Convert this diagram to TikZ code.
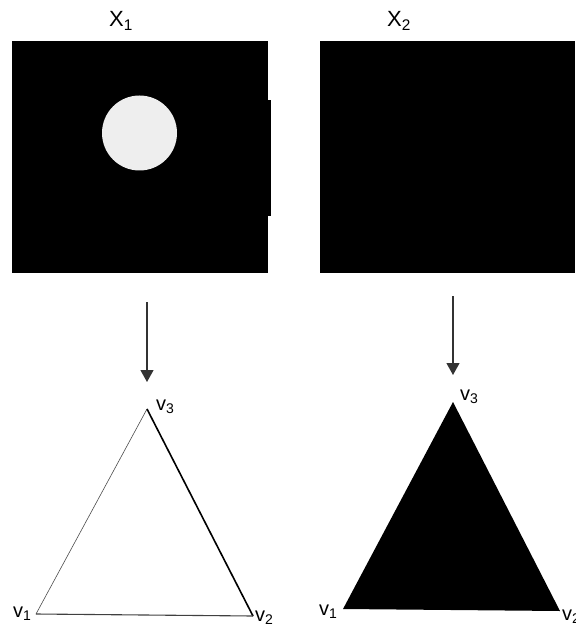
\documentclass[tikz,border=0pt]{standalone}
\usepackage{fontspec}
\setmainfont{Liberation Sans}
\usetikzlibrary{arrows.meta}
\definecolor{disc}{HTML}{EEEEEE}
\tikzset{
  lbl/.style={inner sep=0pt,anchor=base west,font=\fontsize{20}{22}\selectfont},
  ttl/.style={inner sep=0pt,anchor=base west,font=\fontsize{22}{25}\selectfont},
  down/.style={-{Triangle[width=13pt,length=12pt]},line width=1.2pt,black!80},
}

\begin{document}
\begin{tikzpicture}[x=1pt,y=-1pt]
\useasboundingbox (0,0) rectangle (575,628);
\clip (0,0) rectangle (575,628);
% the two images
\node[ttl] (x1) at (109,27) {X\textsubscript{1}};
\node[ttl] (x2) at (387,27) {X\textsubscript{2}};
\fill (12,41) rectangle (268,273);
\fill (268,100) rectangle (270.5,216);
\fill (320,41) rectangle (575,273);
\fill[disc] (139.5,133) circle (37.5pt);
% arrows down
\coordinate (a1) at (147,302); \coordinate (b1) at (147,382);
\coordinate (a2) at (453,296); \coordinate (b2) at (453,375);
\draw[down] (a1) -- (b1);
\draw[down] (a2) -- (b2);
% left simplex, empty
\coordinate (p1) at (36,614); \coordinate (p2) at (253,616); \coordinate (p3) at (147,409);
\draw[line width=0.6pt,black!70] (p1) -- (p3);
\draw[line width=1.6pt] (p3) -- (p2);
\draw[line width=1.1pt,black!75] (p1) -- (p2);
\node[lbl] (v1) at (13,617) {v\textsubscript{1}};
\node[lbl] (v2) at (255,621) {v\textsubscript{2}};
\node[lbl] (v3) at (156,410) {v\textsubscript{3}};
% right simplex, filled
\coordinate (q1) at (343,609); \coordinate (q2) at (560,611); \coordinate (q3) at (453,402);
\fill (q1) -- (q2) -- (q3) -- cycle;
\node[lbl] (w1) at (319,615) {v\textsubscript{1}};
\node[lbl] (w2) at (562,620) {v\textsubscript{2}};
\node[lbl] (w3) at (460,400) {v\textsubscript{3}};
\end{tikzpicture}
\end{document}
